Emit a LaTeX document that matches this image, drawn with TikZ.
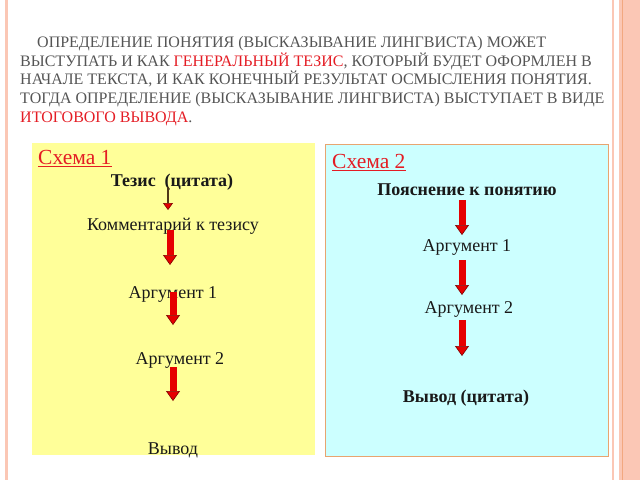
\documentclass[tikz,border=0pt]{standalone}
\usepackage{fontspec}
\setmainfont{Liberation Serif}
\usetikzlibrary{arrows.meta}

\definecolor{titlegray}{RGB}{85,85,85}
\definecolor{schemered}{RGB}{228,28,36}
\definecolor{boxyellow}{RGB}{255,255,153}
\definecolor{boxcyan}{RGB}{204,255,255}
\definecolor{boxedge}{RGB}{232,164,112}
\definecolor{framepink}{RGB}{251,199,181}
\definecolor{framedark}{RGB}{242,168,128}
\definecolor{arrowred}{RGB}{230,0,0}
\definecolor{arrowedge}{RGB}{128,0,0}
\definecolor{shaftbrown}{RGB}{80,56,24}

\tikzset{
  slideline/.style={font=\fontsize{16}{19}\selectfont, text=titlegray, anchor=base west, inner sep=0pt},
  schemehead/.style={font=\fontsize{21.5}{25}\selectfont, text=schemered, anchor=base west, inner sep=0pt},
  steptext/.style={font=\fontsize{18}{21}\selectfont, text=black!90, inner sep=1pt},
  boldstep/.style={steptext, font=\fontsize{18}{21}\selectfont\bfseries},
  bigarrow/.style={arrowred, line width=7pt,
    -{Triangle[width=14pt,length=10pt,fill=arrowred,color=arrowedge,line width=0.6pt]}},
  thinarrow/.style={shaftbrown, line width=1.6pt,
    -{Triangle[width=10pt,length=7pt,fill=arrowred,color=arrowedge,line width=0.6pt]}}
}

\begin{document}
\begin{tikzpicture}[x=1pt,y=-1pt]
  \useasboundingbox (0,0) rectangle (640,480);
  % slide frame
  \fill[framepink] (5,0) rectangle (8,480);
  \fill[framepink] (612,0) rectangle (614,480);
  \fill[framepink] (619,0) rectangle (640,480);
  \fill[framedark] (621.5,0) rectangle (623,480);

  % heading text
  \node[slideline] (l1) at (37,47.5) {ОПРЕДЕЛЕНИЕ ПОНЯТИЯ (ВЫСКАЗЫВАНИЕ ЛИНГВИСТА) МОЖЕТ};
  \node[slideline] (l2) at (20,66) {ВЫСТУПАТЬ И КАК \textcolor{schemered}{ГЕНЕРАЛЬНЫЙ ТЕЗИС}, КОТОРЫЙ БУДЕТ ОФОРМЛЕН В};
  \node[slideline] (l3) at (20,84.5) {НАЧАЛЕ ТЕКСТА, И КАК КОНЕЧНЫЙ РЕЗУЛЬТАТ ОСМЫСЛЕНИЯ ПОНЯТИЯ.};
  \node[slideline] (l4) at (20,103) {ТОГДА ОПРЕДЕЛЕНИЕ (ВЫСКАЗЫВАНИЕ ЛИНГВИСТА) ВЫСТУПАЕТ В ВИДЕ};
  \node[slideline] (l5) at (20,122) {\textcolor{schemered}{ИТОГОВОГО ВЫВОДА}.};

  % scheme boxes
  \fill[boxyellow] (32,143) rectangle (315,455);
  \filldraw[fill=boxcyan, draw=boxedge, line width=1pt] (325,144) rectangle (608,456);

  % scheme 1
  \node[schemehead] (s1) at (38,164) {Схема 1};
  \draw[schemered, line width=1.1pt] ([yshift=-2.5pt]s1.base west) -- ([yshift=-2.5pt]s1.base east);
  \node[boldstep] (t1) at (172,182) {Тезис~ (цитата)};
  \node[steptext] (k1) at (173,226) {Комментарий к тезису};
  \node[steptext] (a11) at (173,294) {Аргумент 1};
  \node[steptext] (a12) at (180,360) {Аргумент 2};
  \node[steptext] (v1) at (173,450) {Вывод};

  % scheme 2
  \node[schemehead] (s2) at (332,168) {Схема 2};
  \draw[schemered, line width=1.1pt] ([yshift=-2.5pt]s2.base west) -- ([yshift=-2.5pt]s2.base east);
  \node[boldstep] (p1) at (467,190) {Пояснение к понятию};
  \node[steptext] (a21) at (467,247) {Аргумент 1};
  \node[steptext] (a22) at (469,309) {Аргумент 2};
  \node[boldstep] (v2) at (466,398) {Вывод (цитата)};

  % arrows
  \draw[thinarrow, shorten <=5pt, shorten >=16pt] ([xshift=-4pt]t1.center) -- ([xshift=-4pt]t1.center |- k1.center);
  \draw[bigarrow, shorten <=4pt, shorten >=29pt] ([xshift=-3pt]k1.center) -- ([xshift=-3pt]k1.center |- a11.center);
  \draw[bigarrow, shorten <=-2pt, shorten >=35pt] (a11.center) -- (a11.center |- a12.center);
  \draw[bigarrow, shorten <=7pt, shorten >=49pt] (v1.center |- a12.center) -- (v1.center);
  \draw[bigarrow, shorten <=10pt, shorten >=12pt] ([xshift=-5pt]p1.center) -- ([xshift=-5pt]p1.center |- a21.center);
  \draw[bigarrow, shorten <=13pt, shorten >=14pt] ([xshift=-5pt]a21.center) -- ([xshift=-5pt]a21.center |- a22.center);
  \draw[bigarrow, shorten <=11pt, shorten >=42pt] ([xshift=-4pt]v2.center |- a22.center) -- ([xshift=-4pt]v2.center);
\end{tikzpicture}
\end{document}
